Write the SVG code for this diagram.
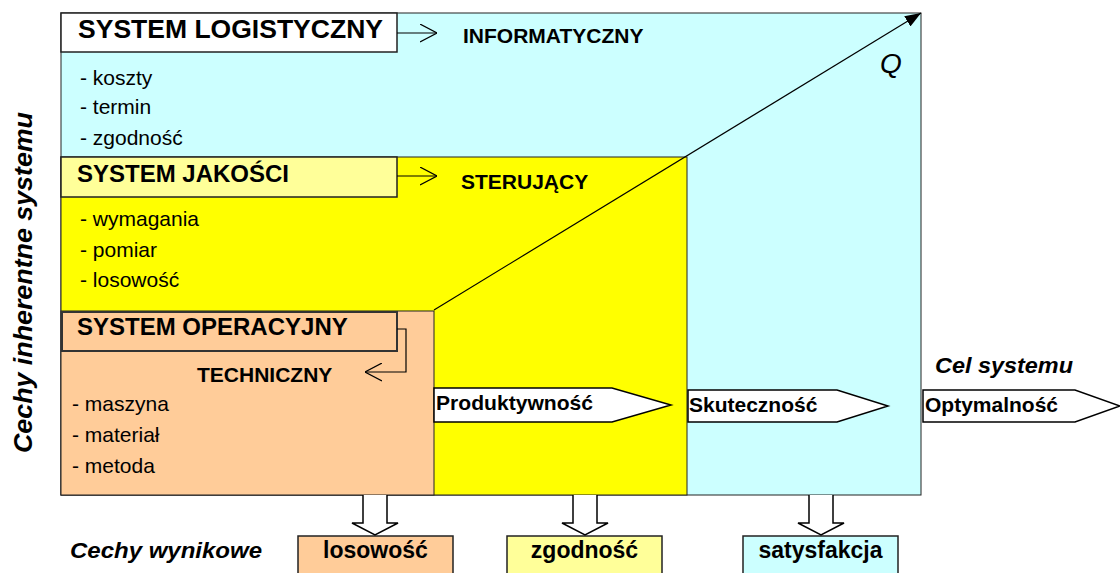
<svg xmlns="http://www.w3.org/2000/svg" width="1120" height="573" viewBox="0 0 1120 573">
<style>
text{font-family:"Liberation Sans",Arial,sans-serif;fill:#000}
.h{font-weight:bold;font-size:24px}
.l{font-size:21px}
.s{font-weight:bold;font-size:21px}
.bi{font-weight:bold;font-style:italic}
.reg{stroke:#222;stroke-width:1}
.box{stroke:#222;stroke-width:1.5}
.ln{stroke:#000;stroke-width:1.2;fill:none}
.blk{fill:#fff;stroke:#000;stroke-width:1.5}
</style>
<defs>
<marker id="open" viewBox="0 0 17 19" refX="17" refY="9.5" markerWidth="17" markerHeight="19" markerUnits="userSpaceOnUse" orient="auto">
<path d="M0,0.5 L17,9.5 L0,18.5" fill="none" stroke="#000" stroke-width="1.2"/>
</marker>
<marker id="fill" viewBox="0 0 16 12" refX="16" refY="6" markerWidth="16" markerHeight="12" markerUnits="userSpaceOnUse" orient="auto">
<path d="M0,0 L16,6 L0,12 Z" fill="#000"/>
</marker>
</defs>
<rect width="1120" height="573" fill="#fff"/>

<g id="region-logistic">
<rect class="reg" x="61" y="13" width="860" height="482" fill="#CCFFFF" stroke-width="2"/>
</g>
<g id="region-quality">
<rect class="reg" x="61" y="157" width="626" height="338" fill="#FFFF00"/>
</g>
<g id="region-operational">
<rect class="reg" x="61" y="311" width="373" height="184" fill="#FFCC99"/>
</g>

<g id="node-logistyczny">
<rect class="box" x="61" y="13" width="336" height="39" fill="#fff"/>
<text class="h" x="78" y="38" style="font-size:26px" textLength="305" lengthAdjust="spacingAndGlyphs">SYSTEM LOGISTYCZNY</text>
<text class="l" x="80" y="85">- koszty</text>
<text class="l" x="80" y="114">- termin</text>
<text class="l" x="80" y="145">- zgodność</text>
</g>
<g id="node-informatyczny">
<text class="s" x="463" y="43">INFORMATYCZNY</text>
</g>

<g id="node-jakosci">
<rect class="box" x="61" y="157" width="336" height="40" fill="#FFFF99"/>
<text class="h" x="77" y="182">SYSTEM JAKOŚCI</text>
<text class="l" x="80" y="226">- wymagania</text>
<text class="l" x="80" y="257">- pomiar</text>
<text class="l" x="80" y="287">- losowość</text>
</g>
<g id="node-sterujacy">
<text class="s" x="461" y="189">STERUJĄCY</text>
</g>

<g id="node-operacyjny">
<rect x="62" y="312" width="335" height="39" fill="#FFCC99" stroke="#333" stroke-width="2"/>
<text class="h" x="77" y="335">SYSTEM OPERACYJNY</text>
<text class="l" x="72" y="411">- maszyna</text>
<text class="l" x="72" y="442">- materiał</text>
<text class="l" x="72" y="473">- metoda</text>
</g>
<g id="node-techniczny">
<text class="s" x="197" y="382">TECHNICZNY</text>
</g>

<g id="node-q">
<text x="880" y="73" style="font-size:28px;font-style:italic">Q</text>
</g>

<g id="node-produktywnosc">
<path class="blk" d="M434,388 L612,388 L671,405 L612,422 L434,422 Z"/>
<text class="s" x="436" y="410" textLength="157" lengthAdjust="spacingAndGlyphs">Produktywność</text>
</g>
<g id="node-skutecznosc">
<path class="blk" d="M688,390 L837,390 L888,406 L837,422 L688,422 Z"/>
<text class="s" x="689" y="412">Skuteczność</text>
</g>
<g id="node-cel">
<text class="bi" x="935" y="373" style="font-size:22px" textLength="138" lengthAdjust="spacingAndGlyphs">Cel systemu</text>
</g>
<g id="node-optymalnosc">
<path class="blk" d="M923,390 L1075,390 L1120,406 L1075,422 L923,422 Z"/>
<text class="s" x="925" y="412">Optymalność</text>
</g>

<g id="node-cechy-inherentne">
<text class="bi" transform="translate(32,453) rotate(-90)" style="font-size:25px" textLength="341" lengthAdjust="spacingAndGlyphs">Cechy inherentne systemu</text>
</g>
<g id="node-cechy-wynikowe">
<text class="bi" x="70" y="558" style="font-size:22px" textLength="192" lengthAdjust="spacingAndGlyphs">Cechy wynikowe</text>
</g>

<g id="node-losowosc">
<rect class="box" x="298" y="536" width="155" height="45" fill="#FFCC99"/>
<text x="375.5" y="558" text-anchor="middle" style="font-size:23px;font-weight:bold">losowość</text>
</g>
<g id="node-zgodnosc">
<rect class="box" x="507" y="536" width="155" height="45" fill="#FFFF99"/>
<text x="584.5" y="558" text-anchor="middle" style="font-size:23px;font-weight:bold">zgodność</text>
</g>
<g id="node-satysfakcja">
<rect class="box" x="743" y="536" width="155" height="45" fill="#CCFFFF"/>
<text x="820.5" y="558" text-anchor="middle" style="font-size:23px;font-weight:bold">satysfakcja</text>
</g>

<g id="connectors">
<line class="ln" x1="434" y1="310" x2="921" y2="13" marker-end="url(#fill)"/>
<line class="ln" x1="397" y1="33" x2="437" y2="33" marker-end="url(#open)"/>
<line class="ln" x1="397" y1="176" x2="437" y2="176" marker-end="url(#open)"/>
<polyline class="ln" points="397,329 406,329 406,372 365,372" marker-end="url(#open)"/>
<path class="blk" d="M363,495 L363,523 L352,523 L375,535 L398,523 L387,523 L387,495"/>
<path class="blk" d="M573,495 L573,523 L562,523 L585,535 L608,523 L597,523 L597,495"/>
<path class="blk" d="M809,495 L809,523 L798,523 L821,535 L844,523 L833,523 L833,495"/>
</g>
</svg>
